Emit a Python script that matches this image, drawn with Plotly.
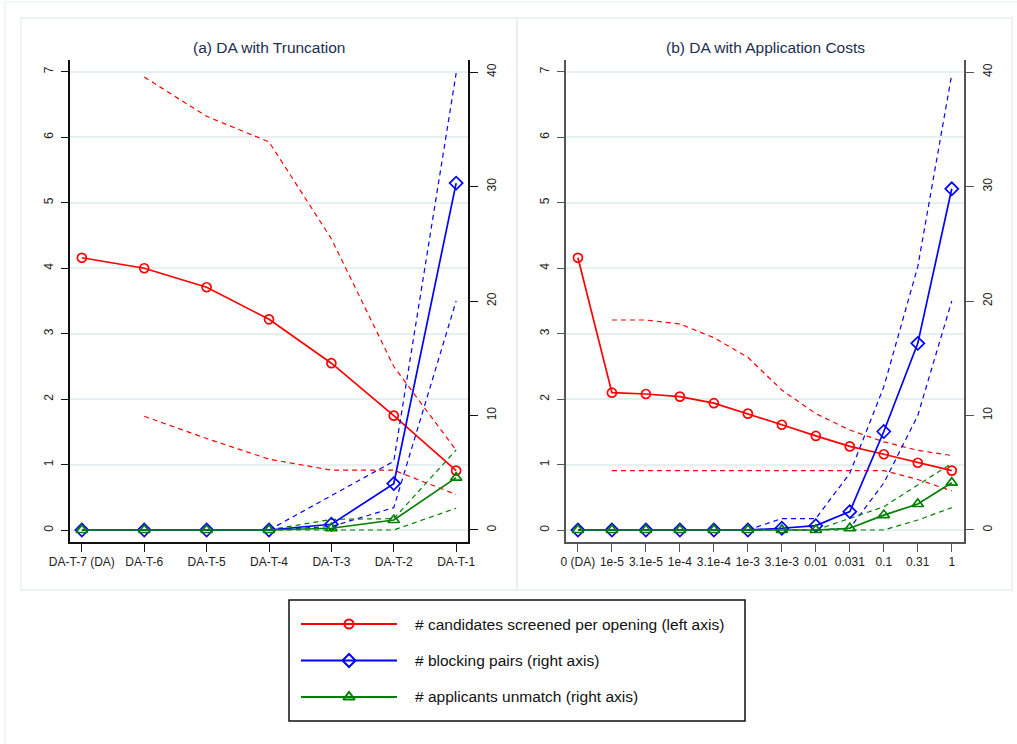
import plotly.graph_objects as go

# ---------------- data ----------------
cats_a = ["DA-T-7 (DA)", "DA-T-6", "DA-T-5", "DA-T-4", "DA-T-3", "DA-T-2", "DA-T-1"]
screened_a = [4.16, 4.00, 3.71, 3.22, 2.55, 1.75, 0.91]
screened_a_hi = [None, 6.92, 6.32, 5.93, 4.45, 2.50, 1.22]
screened_a_lo = [None, 1.74, 1.40, 1.085, 0.917, 0.917, 0.545]
blocking_a = [0, 0, 0, 0, 0.5, 4.05, 30.3]
blocking_a_hi = [None, None, None, 0, 3.0, 6.0, 39.9]
blocking_a_lo = [None, None, None, 0, 0.3, 1.95, 20.0]
unmatch_a = [0, 0, 0, 0, 0.15, 0.87, 4.57]
unmatch_a_hi = [None, None, None, 0, 0.93, 0.99, 6.99]
unmatch_a_lo = [None, None, None, 0, 0, 0, 1.9]

cats_b = ["0 (DA)", "1e-5", "3.1e-5", "1e-4", "3.1e-4", "1e-3", "3.1e-3", "0.01", "0.031", "0.1", "0.31", "1"]
screened_b = [4.16, 2.10, 2.08, 2.04, 1.94, 1.78, 1.61, 1.44, 1.28, 1.16, 1.03, 0.91]
screened_b_hi = [None, 3.21, 3.21, 3.15, 2.94, 2.64, 2.14, 1.78, 1.53, 1.35, 1.22, 1.14]
screened_b_lo = [None, 0.91, 0.91, 0.91, 0.91, 0.91, 0.91, 0.91, 0.91, 0.91, 0.775, 0.60]
blocking_b = [0, 0, 0, 0, 0, 0, 0.15, 0.38, 1.6, 8.6, 16.3, 29.8]
blocking_b_hi = [None, None, None, None, None, 0, 1.0, 1.0, 4.95, 12.5, 23.0, 39.8]
blocking_b_lo = [None, None, None, None, None, 0, 0, 0, 0.15, 4.1, 10.0, 20.0]
unmatch_b = [0, 0, 0, 0, 0, 0, 0, 0, 0.15, 1.3, 2.27, 4.13]
unmatch_b_hi = [None, None, None, None, None, None, None, 0, 1.0, 2.03, 3.93, 5.82]
unmatch_b_lo = [None, None, None, None, None, None, None, 0, 0, 0, 0.87, 1.95]

left_ticks = [0, 1, 2, 3, 4, 5, 6, 7]
right_ticks = [0, 10, 20, 30, 40]
titles = ["(a) DA with Truncation", "(b) DA with Application Costs"]
legend_labels = ["# candidates screened per opening (left axis)",
                 "# blocking pairs (right axis)",
                 "# applicants unmatch (right axis)"]

# ---------------- style ----------------
W, H = 1017, 744
RED, BLUE, GREEN = "#ff0000", "#0000ff", "#008000"
FONT = "Liberation Sans, Arial, sans-serif"
DASH = "5px,4px"


def px(x):
    return x / W


def py(y):
    return 1 - y / H


fig = go.Figure()


def add_panel(cats, scr, scr_hi, scr_lo, blk, blk_hi, blk_lo, unm, unm_hi, unm_lo, xa, yl, yr):
    for arr, col, ya in [(scr_hi, RED, yl), (scr_lo, RED, yl),
                         (blk_hi, BLUE, yr), (blk_lo, BLUE, yr),
                         (unm_hi, GREEN, yr), (unm_lo, GREEN, yr)]:
        fig.add_trace(go.Scatter(x=cats, y=arr, mode="lines", xaxis=xa, yaxis=ya,
                                 line=dict(color=col, width=1.2, dash=DASH),
                                 showlegend=False, hoverinfo="skip"))
    fig.add_trace(go.Scatter(x=cats, y=scr, mode="lines+markers", xaxis=xa, yaxis=yl,
                             line=dict(color=RED, width=1.7),
                             marker=dict(symbol="circle-open", size=9, color=RED, line=dict(width=1.7)),
                             showlegend=False))
    fig.add_trace(go.Scatter(x=cats, y=blk, mode="lines+markers", xaxis=xa, yaxis=yr,
                             line=dict(color=BLUE, width=1.7),
                             marker=dict(symbol="diamond-open", size=10, color=BLUE, line=dict(width=1.7)),
                             showlegend=False))
    fig.add_trace(go.Scatter(x=cats, y=unm, mode="lines+markers", xaxis=xa, yaxis=yr,
                             line=dict(color=GREEN, width=1.7),
                             marker=dict(symbol="triangle-up-open", size=10, color=GREEN, line=dict(width=1.7)),
                             showlegend=False))


add_panel(cats_a, screened_a, screened_a_hi, screened_a_lo, blocking_a, blocking_a_hi, blocking_a_lo,
          unmatch_a, unmatch_a_hi, unmatch_a_lo, "x", "y", "y2")
add_panel(cats_b, screened_b, screened_b_hi, screened_b_lo, blocking_b, blocking_b_hi, blocking_b_lo,
          unmatch_b, unmatch_b_hi, unmatch_b_lo, "x2", "y3", "y4")

# custom legend samples on an auxiliary axis
leg_cols = [RED, BLUE, GREEN]
leg_syms = ["circle-open", "diamond-open", "triangle-up-open"]
leg_sizes = [9, 10, 10]
for i, (c, s, sz) in enumerate(zip(leg_cols, leg_syms, leg_sizes)):
    fig.add_trace(go.Scatter(x=[0, 1], y=[i, i], mode="lines", xaxis="x3", yaxis="y5",
                             line=dict(color=c, width=2), showlegend=False, hoverinfo="skip"))
    fig.add_trace(go.Scatter(x=[0.5], y=[i], mode="markers", xaxis="x3", yaxis="y5",
                             marker=dict(symbol=s, size=sz, color=c, line=dict(width=2)),
                             showlegend=False, hoverinfo="skip"))

plot_top, plot_bot = 60, 542
ydom = [py(plot_bot), py(plot_top)]
yl_range = [-0.18, 7.18]
yr_range = [-1.05, 41.05]

tickfont = dict(family=FONT, size=12, color="#222222")


def xaxis_cfg(dom, cats, rng, col):
    return dict(domain=dom, type="category", categoryorder="array", categoryarray=cats,
                range=rng, showline=True, linecolor=col, linewidth=1.5,
                ticks="outside", ticklen=8, tickwidth=1.2, tickcolor=col, automargin=False,
                showgrid=False, zeroline=False, tickfont=tickfont, fixedrange=True)


def yl_cfg(anchor, col):
    return dict(domain=ydom, anchor=anchor, range=yl_range, tickvals=left_ticks,
                showline=True, linecolor=col, linewidth=1.5, ticks="outside", ticklen=7,
                tickwidth=1.2, tickcolor=col, tickangle=-90, showgrid=True, automargin=False,
                ticklabelstandoff=3,
                gridcolor="#e6eff1", gridwidth=1.5, zeroline=False, tickfont=tickfont,
                fixedrange=True)


def yr_cfg(anchor, over, col):
    return dict(anchor=anchor, overlaying=over, side="right", range=yr_range, tickvals=right_ticks,
                showline=True, linecolor=col, linewidth=1.5, ticks="outside", ticklen=8,
                tickwidth=1.2, tickcolor=col, tickangle=-90, showgrid=False, zeroline=False,
                automargin=False, ticklabelstandoff=4,
                tickfont=tickfont, fixedrange=True)


L_COL = "#111111"
R_COL = "#555555"

fig.update_layout(
    width=W, height=H, margin=dict(l=0, r=0, t=0, b=0, pad=0, autoexpand=False),
    paper_bgcolor="white", plot_bgcolor="rgba(0,0,0,0)",
    font=dict(family=FONT, size=12, color="#222222"),
    showlegend=False,
    xaxis=xaxis_cfg([px(70), px(468)], cats_a, [-0.19, 6.19], L_COL),
    yaxis=yl_cfg("x", L_COL),
    yaxis2=yr_cfg("x", "y", L_COL),
    xaxis2=xaxis_cfg([px(565.7), px(964)], cats_b, [-0.36, 11.36], R_COL),
    yaxis3=yl_cfg("x2", R_COL),
    yaxis4=yr_cfg("x2", "y3", R_COL),
    xaxis3=dict(domain=[px(301), px(397)], range=[0, 1], visible=False, anchor="y5",
                fixedrange=True, automargin=False),
    yaxis5=dict(domain=[py(721), py(600)], range=[2.658, -0.658], visible=False, anchor="x3",
                fixedrange=True, automargin=False),
)

shapes = [
    dict(type="rect", xref="paper", yref="paper", x0=px(5), x1=px(1030), y0=py(760), y1=py(2),
         line=dict(color="#eef3f4", width=1.5), layer="below"),
    dict(type="rect", xref="paper", yref="paper", x0=px(21), x1=px(517), y0=py(590), y1=py(18),
         line=dict(color="#e8f0f2", width=1.5), layer="below"),
    dict(type="rect", xref="paper", yref="paper", x0=px(517), x1=px(1012), y0=py(590), y1=py(18),
         line=dict(color="#e8f0f2", width=1.5), layer="below"),
    dict(type="rect", xref="paper", yref="paper", x0=px(289), x1=px(745), y0=py(721), y1=py(600),
         line=dict(color="#111111", width=1.5), fillcolor="white", layer="below"),
]
fig.update_layout(shapes=shapes)

anns = []
for t, cx in zip(titles, [269, 765]):
    anns.append(dict(text=t, xref="paper", yref="paper", x=px(cx), y=py(47), showarrow=False,
                     xanchor="center", yanchor="middle",
                     font=dict(family=FONT, size=15.5, color="#1c2e4e")))
for i, lab in enumerate(legend_labels):
    anns.append(dict(text=lab, xref="paper", yref="y5", x=px(413), y=i, showarrow=False,
                     xanchor="left", yanchor="middle",
                     font=dict(family=FONT, size=15.5, color="#111111")))
fig.update_layout(annotations=anns)

fig.write_html("out.html", config={"displayModeBar": False},
               post_script="document.body.style.margin='0px';document.body.style.overflow='hidden';")
